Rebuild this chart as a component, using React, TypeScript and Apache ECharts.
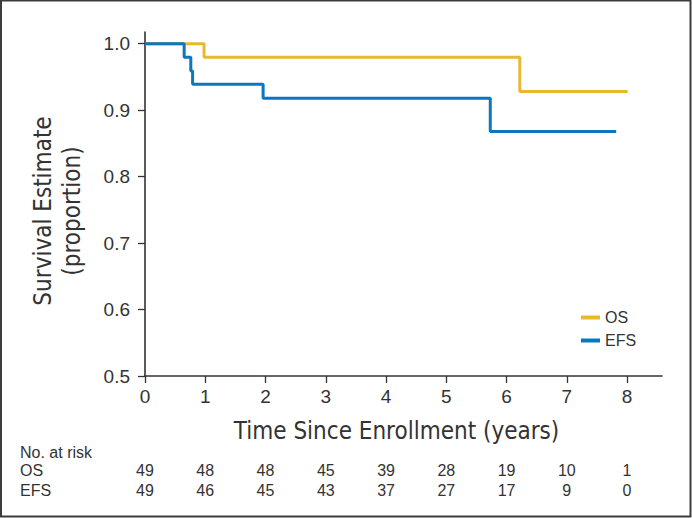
import React, { useEffect, useRef } from "react";
import * as echarts from "echarts";

const xTicks = [0, 1, 2, 3, 4, 5, 6, 7, 8];
const osCurve: [number, number][] = [[0, 1], [0.98, 0.9796], [6.22, 0.928], [8.01, 0.928]];
const efsCurve: [number, number][] = [[0, 1], [0.65, 0.9796], [0.76, 0.959], [0.79, 0.939], [1.96, 0.918], [5.73, 0.868], [7.82, 0.868]];
const osAtRisk = [49, 48, 48, 45, 39, 28, 19, 10, 1];
const efsAtRisk = [49, 46, 45, 43, 37, 27, 17, 9, 0];
const riskRows = ["OS", "EFS"];

const FONT = "'Liberation Sans', Arial, sans-serif";
const TITLE_FONT = "'DejaVu Sans Condensed', 'Liberation Sans Narrow', sans-serif";
const TXT = "#333333";
const OS_COLOR = "#E8B92F";
const EFS_COLOR = "#0B77BE";

export default function App() {
  const ref = useRef<HTMLDivElement>(null);
  useEffect(() => {
    if (!ref.current) return;
    const chart = echarts.init(ref.current, null, { renderer: "svg" });
    const riskData = (row: string, vals: number[]) => vals.map((v, i) => [xTicks[i], row, v]);
    chart.setOption({
      animation: false,
      backgroundColor: "#ffffff",
      textStyle: { fontFamily: FONT },
      grid: [
        { left: 145, right: 30, top: 32, bottom: 142 },
        { left: 145, right: 30, top: 461, height: 39 },
      ],
      xAxis: [
        {
          gridIndex: 0,
          type: "value",
          min: 0,
          max: 8.58,
          interval: 1,
          axisLine: { show: true, lineStyle: { color: TXT, width: 1.6 } },
          axisTick: { show: true, length: 7, lineStyle: { color: TXT, width: 1.3 } },
          axisLabel: {
            color: TXT, fontSize: 19, fontFamily: FONT, margin: 11,
            formatter: (v: number) => (v <= 8 ? String(v) : ""),
            showMaxLabel: false,
          },
          splitLine: { show: false },
          name: "Time Since Enrollment (years)",
          nameLocation: "middle",
          nameGap: 43,
          nameTextStyle: { color: TXT, fontSize: 24, fontFamily: TITLE_FONT, padding: [0, 14, 0, 0] },
        },
        {
          gridIndex: 1, type: "value", min: 0, max: 8.58, show: false,
        },
      ],
      yAxis: [
        {
          gridIndex: 0,
          type: "value",
          min: 0.5,
          max: 1.0175,
          interval: 0.1,
          axisLine: { show: true, lineStyle: { color: TXT, width: 1.6 } },
          axisTick: { show: true, length: 7, lineStyle: { color: TXT, width: 1.3 } },
          axisLabel: {
            color: TXT, fontSize: 19, fontFamily: FONT, margin: 15,
            formatter: (v: number) => (v <= 1.0001 ? v.toFixed(1) : ""),
            showMaxLabel: false,
          },
          splitLine: { show: false },
        },
        {
          gridIndex: 1,
          type: "category",
          data: riskRows,
          inverse: true,
          axisLine: { show: false },
          axisTick: { show: false },
          splitLine: { show: false },
          axisLabel: {
            color: TXT, fontSize: 16, fontFamily: FONT, align: "left", margin: 125,
            interval: 0, hideOverlap: false,
          },
        },
      ],
      legend: {
        orient: "vertical",
        left: 576,
        top: 303,
        itemWidth: 19,
        itemHeight: 4,
        itemGap: 4,
        icon: "rect",
        data: ["OS", "EFS"],
        textStyle: { color: TXT, fontSize: 16, fontFamily: FONT, lineHeight: 19 },
      },
      series: [
        {
          name: "OS", type: "line", step: "end", data: osCurve, showSymbol: false,
          color: OS_COLOR, lineStyle: { width: 3, color: OS_COLOR }, xAxisIndex: 0, yAxisIndex: 0,
        },
        {
          name: "EFS", type: "line", step: "end", data: efsCurve, showSymbol: false,
          color: EFS_COLOR, lineStyle: { width: 3, color: EFS_COLOR }, xAxisIndex: 0, yAxisIndex: 0,
        },
        ...[
          { row: "OS", vals: osAtRisk },
          { row: "EFS", vals: efsAtRisk },
        ].map((r) => ({
          type: "scatter",
          xAxisIndex: 1,
          yAxisIndex: 1,
          symbolSize: 0,
          data: riskData(r.row, r.vals),
          silent: true,
          itemStyle: { color: TXT, opacity: 1 },
          label: {
            show: true,
            position: "inside",
            color: TXT,
            textBorderWidth: 0,
            fontSize: 16,
            fontFamily: FONT,
            formatter: (p: any) => String(p.value[2]),
          },
        })),
      ],
      graphic: [
        {
          type: "rect",
          shape: { x: 1, y: 0.5, width: 689.5, height: 516 },
          style: { fill: "none", stroke: "#3c3c3c", lineWidth: 2 },
          silent: true,
        },
        {
          type: "text",
          x: 42.5,
          y: 211,
          rotation: Math.PI / 2,
          style: { text: "Survival Estimate", fill: TXT, fontSize: 24, fontFamily: TITLE_FONT, align: "center", verticalAlign: "middle" },
        },
        {
          type: "text",
          x: 72,
          y: 211,
          rotation: Math.PI / 2,
          style: { text: "(proportion)", fill: TXT, fontSize: 24, fontFamily: TITLE_FONT, align: "center", verticalAlign: "middle" },
        },
        {
          type: "text",
          x: 20,
          y: 452,
          style: { text: "No. at risk", fill: TXT, fontSize: 16, fontFamily: FONT, align: "left", verticalAlign: "middle" },
        },
      ],
    });
    return () => chart.dispose();
  }, []);
  return (
    <div
      ref={ref}
      style={{ position: "absolute", left: 0, top: 0, width: 692, height: 518 }}
    />
  );
}
